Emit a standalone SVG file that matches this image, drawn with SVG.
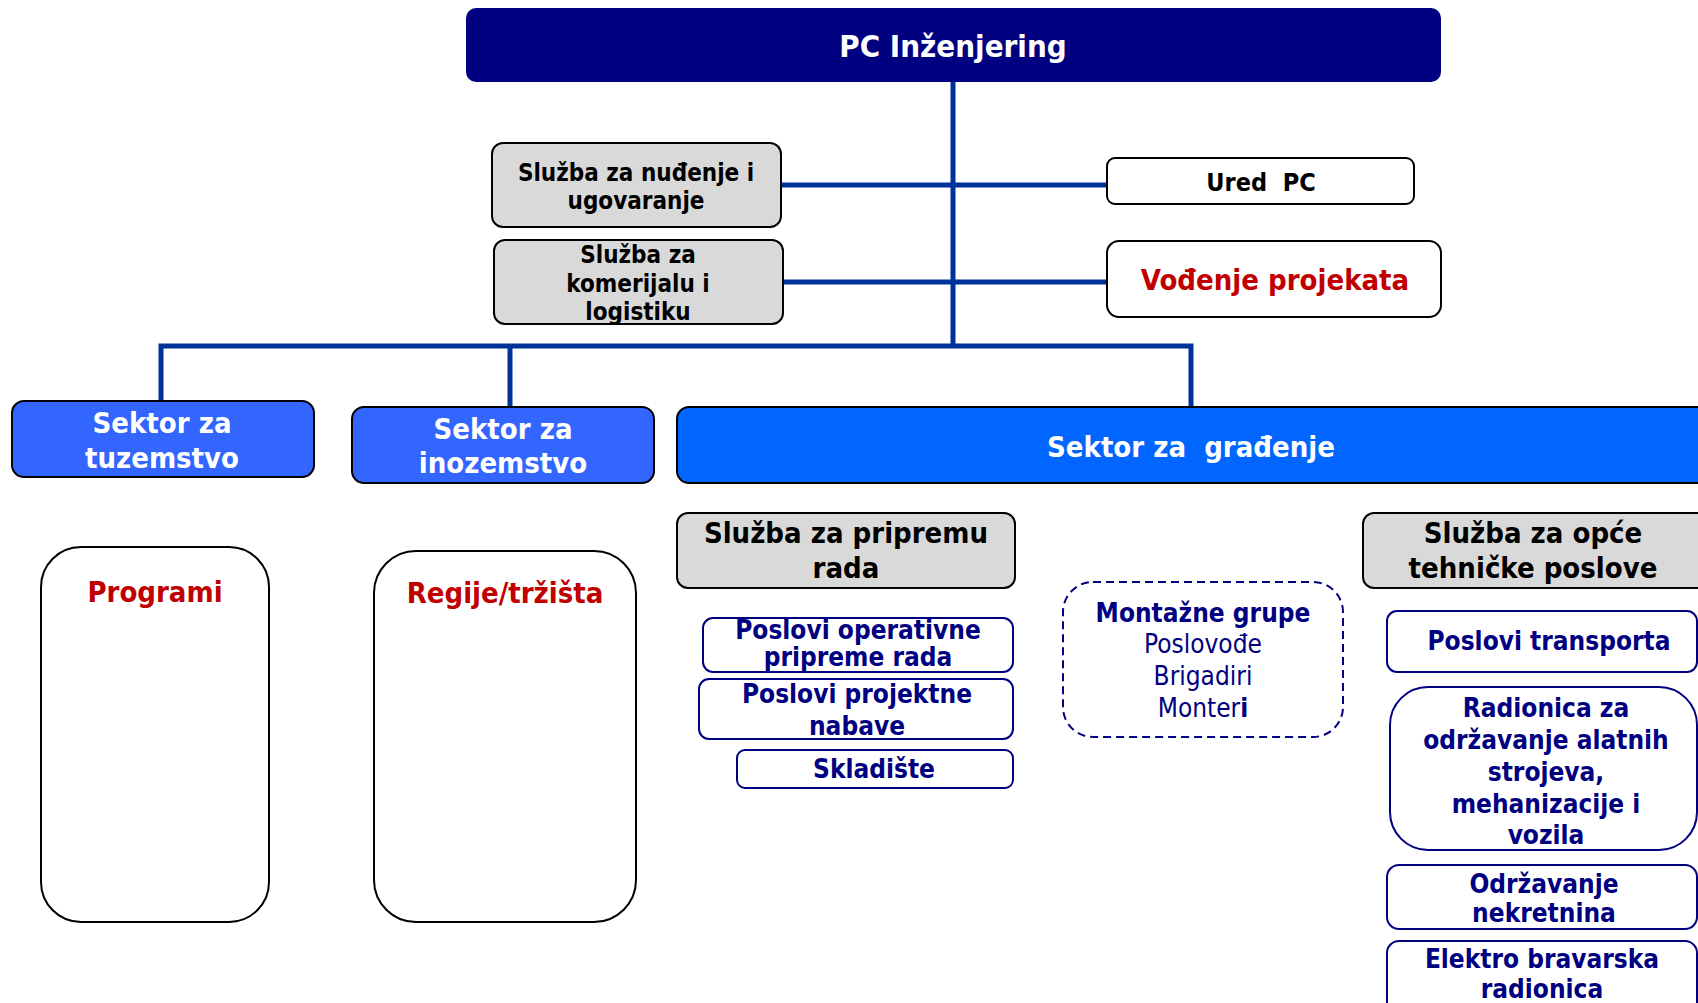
<svg xmlns="http://www.w3.org/2000/svg" width="1698" height="1003" viewBox="0 0 1698 1003">
<style>
text{font-family:"DejaVu Sans Condensed","DejaVu Sans",sans-serif;font-stretch:condensed;font-weight:bold;text-anchor:middle}
text.reg{font-weight:normal}
tspan.b{font-weight:bold}
.gray{fill:#d9d9d9;stroke:#000;stroke-width:2}
.white{fill:#fff;stroke:#000;stroke-width:2}
.sub{fill:#fff;stroke:#000080;stroke-width:2}
.blk{fill:#000}
.nav{fill:#000080}
.red{fill:#c00000}
.wht{fill:#fff}
.conn{stroke:#003399;stroke-width:5;fill:none}
</style>
<rect width="1698" height="1003" fill="#fff"/>
<g id="connectors">
<line class="conn" x1="953" y1="82" x2="953" y2="346"/>
<line class="conn" x1="781" y1="185" x2="1107" y2="185"/>
<line class="conn" x1="783" y1="282" x2="1107" y2="282"/>
<polyline class="conn" points="161,401 161,346 1191,346 1191,407"/>
<line class="conn" x1="510" y1="346" x2="510" y2="407"/>
</g>
<g id="pc-inzenjering">
<rect x="466" y="8" width="975" height="74" rx="10" fill="#000080"/>
<text x="953" y="57" font-size="31" class="wht">PC Inženjering</text>
</g>
<g id="sluzba-nudjenje">
<rect class="gray" x="492" y="143" width="289" height="84" rx="11"/>
<text x="636" y="181" font-size="24" class="blk">Služba za nuđenje i</text>
<text x="636" y="209" font-size="24" class="blk">ugovaranje</text>
</g>
<g id="sluzba-komerijala">
<rect class="gray" x="494" y="240" width="289" height="84" rx="11"/>
<text x="638" y="263" font-size="24" class="blk">Služba za</text>
<text x="638" y="292" font-size="24" class="blk">komerijalu i</text>
<text x="638" y="320" font-size="24" class="blk">logistiku</text>
</g>
<g id="ured-pc">
<rect class="white" x="1107" y="158" width="307" height="46" rx="8"/>
<text x="1261" y="191" font-size="25" class="blk" xml:space="preserve">Ured  PC</text>
</g>
<g id="vodjenje-projekata">
<rect class="white" x="1107" y="241" width="334" height="76" rx="12"/>
<text x="1275" y="290" font-size="29" class="red">Vođenje projekata</text>
</g>
<g id="sektor-tuzemstvo">
<rect x="12" y="401" width="302" height="76" rx="12" fill="#3366ff" stroke="#000" stroke-width="2"/>
<text x="162" y="433" font-size="29" class="wht">Sektor za</text>
<text x="162" y="468" font-size="29" class="wht">tuzemstvo</text>
</g>
<g id="sektor-inozemstvo">
<rect x="352" y="407" width="302" height="76" rx="12" fill="#3366ff" stroke="#000" stroke-width="2"/>
<text x="503" y="439" font-size="29" class="wht">Sektor za</text>
<text x="503" y="473" font-size="29" class="wht">inozemstvo</text>
</g>
<g id="sektor-gradjenje">
<rect x="677" y="407" width="1060" height="76" rx="12" fill="#0066ff" stroke="#000" stroke-width="2"/>
<text x="1191" y="457" font-size="29" class="wht" xml:space="preserve">Sektor za  građenje</text>
</g>
<g id="programi">
<rect x="41" y="547" width="228" height="375" rx="40" fill="#fff" stroke="#000" stroke-width="2"/>
<text x="155" y="602" font-size="29" class="red">Programi</text>
</g>
<g id="regije">
<rect x="374" y="551" width="262" height="371" rx="42" fill="#fff" stroke="#000" stroke-width="2"/>
<text x="505" y="603" font-size="29" class="red">Regije/tržišta</text>
</g>
<g id="sluzba-priprema">
<rect class="gray" x="677" y="513" width="338" height="75" rx="11"/>
<text x="846" y="543" font-size="29" class="blk">Služba za pripremu</text>
<text x="846" y="578" font-size="29" class="blk">rada</text>
</g>
<g id="sluzba-opce">
<rect class="gray" x="1363" y="513" width="360" height="75" rx="11"/>
<text x="1533" y="543" font-size="29" class="blk">Služba za opće</text>
<text x="1533" y="578" font-size="29" class="blk">tehničke poslove</text>
</g>
<g id="poslovi-operativne">
<rect class="sub" x="703" y="618" width="310" height="54" rx="10"/>
<text x="858" y="639" font-size="26" class="nav">Poslovi operativne</text>
<text x="858" y="666" font-size="26" class="nav">pripreme rada</text>
</g>
<g id="poslovi-projektne">
<rect class="sub" x="699" y="679" width="314" height="60" rx="10"/>
<text x="857" y="703" font-size="26" class="nav">Poslovi projektne</text>
<text x="857" y="735" font-size="26" class="nav">nabave</text>
</g>
<g id="skladiste">
<rect class="sub" x="737" y="750" width="276" height="38" rx="8"/>
<text x="874" y="778" font-size="26" class="nav">Skladište</text>
</g>
<g id="montazne-grupe">
<rect x="1063" y="582" width="280" height="155" rx="30" fill="none" stroke="#000080" stroke-width="2" stroke-dasharray="8,5"/>
<text x="1203" y="622" font-size="26" class="nav">Montažne grupe</text>
<text x="1203" y="653" font-size="26" class="nav reg">Poslovođe</text>
<text x="1203" y="685" font-size="26" class="nav reg">Brigadiri</text>
<text x="1203" y="717" font-size="26" class="nav reg">Monter<tspan class="b">i</tspan></text>
</g>
<g id="poslovi-transporta">
<rect class="sub" x="1387" y="611" width="310" height="61" rx="10"/>
<text x="1549" y="650" font-size="26" class="nav">Poslovi transporta</text>
</g>
<g id="radionica">
<rect class="sub" x="1390" y="687" width="307" height="163" rx="38"/>
<text x="1546" y="717" font-size="26" class="nav">Radionica za</text>
<text x="1546" y="749" font-size="26" class="nav">održavanje alatnih</text>
<text x="1546" y="781" font-size="26" class="nav">strojeva,</text>
<text x="1546" y="813" font-size="26" class="nav">mehanizacije i</text>
<text x="1546" y="844" font-size="26" class="nav">vozila</text>
</g>
<g id="odrzavanje-nekretnina">
<rect class="sub" x="1387" y="865" width="310" height="64" rx="12"/>
<text x="1544" y="893" font-size="26" class="nav">Održavanje</text>
<text x="1544" y="922" font-size="26" class="nav">nekretnina</text>
</g>
<g id="elektro-bravarska">
<rect class="sub" x="1387" y="941" width="310" height="80" rx="12"/>
<text x="1542" y="968" font-size="26" class="nav">Elektro bravarska</text>
<text x="1542" y="998" font-size="26" class="nav">radionica</text>
</g>
</svg>
